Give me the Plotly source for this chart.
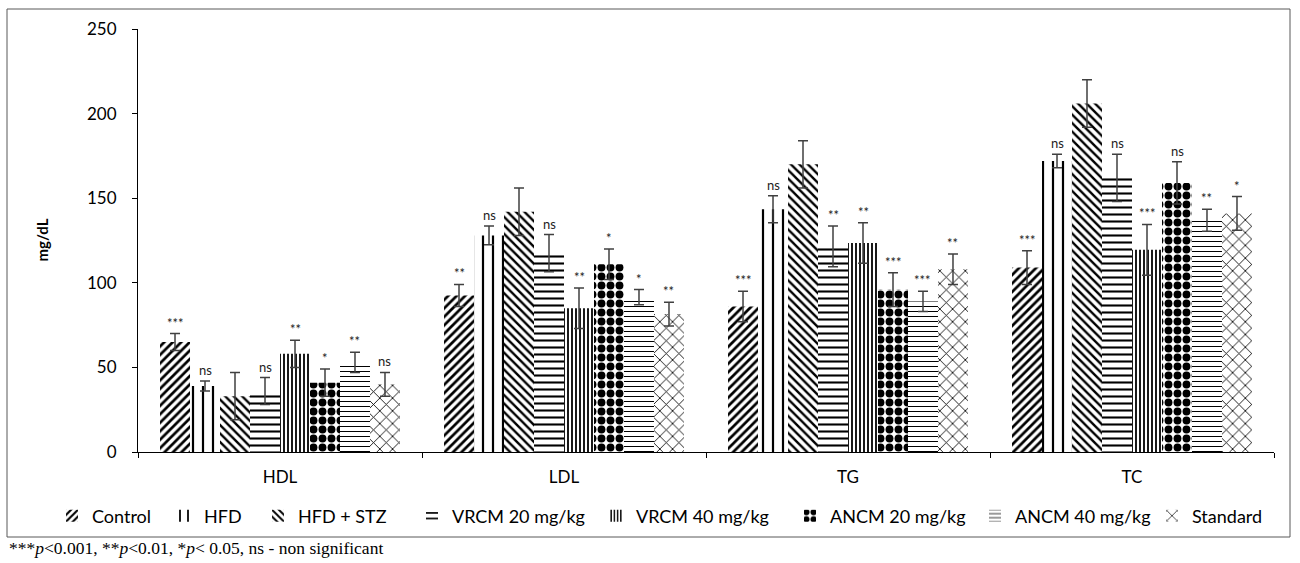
import plotly.graph_objects as go

categories = ["HDL", "LDL", "TG", "TC"]
groups = ["Control", "HFD", "HFD + STZ", "VRCM 20 mg/kg", "VRCM 40 mg/kg",
          "ANCM 20 mg/kg", "ANCM 40 mg/kg", "Standard"]

# values per group: [HDL, LDL, TG, TC]
control_vals = [65, 92.5, 86, 109]
hfd_vals = [39, 128, 143.5, 172]
hfdstz_vals = [33, 142, 170, 206]
vrcm20_vals = [36, 117.5, 121.5, 162]
vrcm40_vals = [58, 85, 123.5, 119.5]
ancm20_vals = [41, 111, 96, 159]
ancm40_vals = [53, 91.5, 89, 137]
standard_vals = [40, 81.5, 108, 141]

control_err = [5, 6.5, 9, 10]
hfd_err = [3, 5.5, 8, 4]
hfdstz_err = [14, 14, 14, 14]
vrcm20_err = [8, 11, 12, 14]
vrcm40_err = [8, 12, 12, 15]
ancm20_err = [8, 9, 10, 12.5]
ancm40_err = [6, 4.5, 6, 6.5]
standard_err = [7, 7, 9, 10]

control_sig = ["***", "**", "***", "***"]
hfd_sig = ["ns", "ns", "ns", "ns"]
hfdstz_sig = ["", "", "", ""]
vrcm20_sig = ["ns", "ns", "**", "ns"]
vrcm40_sig = ["**", "**", "**", "***"]
ancm20_sig = ["*", "*", "***", "ns"]
ancm40_sig = ["**", "*", "***", "**"]
standard_sig = ["ns", "**", "**", "*"]

y_ticks = [0, 50, 100, 150, 200, 250]

all_vals = [control_vals, hfd_vals, hfdstz_vals, vrcm20_vals, vrcm40_vals,
            ancm20_vals, ancm40_vals, standard_vals]
all_err = [control_err, hfd_err, hfdstz_err, vrcm20_err, vrcm40_err,
           ancm20_err, ancm40_err, standard_err]
all_sig = [control_sig, hfd_sig, hfdstz_sig, vrcm20_sig, vrcm40_sig,
           ancm20_sig, ancm40_sig, standard_sig]

patterns = [
    dict(shape="/", size=6, solidity=0.45),
    dict(shape="|", size=10, solidity=0.22),
    dict(shape="\\", size=6, solidity=0.4),
    dict(shape="-", size=7, solidity=0.3),
    dict(shape="|", size=4, solidity=0.45),
    dict(shape=".", size=9, solidity=0.6),
    dict(shape="-", size=5, solidity=0.2),
    dict(shape="x", size=9, solidity=0.18),
]

# layout geometry (pixels)
W, H = 1300, 563
ML, MR, MT, MB = 138, 26, 29, 111
PW = W - ML - MR
PH = H - MT - MB


def px_x(px):
    return (px - ML) / PW


def px_y(py):
    return (H - MB - py) / PH


# left edge of each legend text (px), one legend per series
legend_text_px = [92, 204, 298, 452, 636, 830, 1015, 1192]

FONT = "Lato"
fig = go.Figure()
for i, (name, vals, err, sig, pat) in enumerate(zip(groups, all_vals, all_err, all_sig, patterns)):
    p = dict(pat)
    p.update(fgcolor="black", bgcolor="white", fillmode="replace")
    lname = "legend" if i == 0 else f"legend{i+1}"
    fig.add_trace(go.Bar(
        name=name, x=categories, y=vals, legend=lname,
        marker=dict(color="white", pattern=p, line=dict(width=0)),
        error_y=dict(type="data", array=err, visible=True,
                     color="#404040", thickness=1.5, width=5),
    ))
    fig.update_layout({lname: dict(
        orientation="h", x=px_x(legend_text_px[i] - 40), xanchor="left",
        y=px_y(516), yanchor="middle", bgcolor="rgba(0,0,0,0)",
        font=dict(family=FONT, size=18, color="black"), borderwidth=0,
    )})

fig.update_layout(
    barmode="group", bargap=0.155, bargroupgap=0,
    width=W, height=H,
    margin=dict(l=ML, r=MR, t=MT, b=MB, autoexpand=False),
    plot_bgcolor="white", paper_bgcolor="white",
    font=dict(family=FONT, size=17, color="black"),
    showlegend=True,
)
fig.update_yaxes(range=[0, 250], tickvals=y_ticks, showgrid=False,
                 showline=True, linecolor="black", linewidth=1,
                 ticks="outside", ticklen=5, tickcolor="black",
                 ticklabelstandoff=12, zeroline=False,
                 tickfont=dict(family=FONT, size=17, color="black"))
fig.update_xaxes(showgrid=False, showline=True, linecolor="black", linewidth=1,
                 ticks="outside", ticklen=5, tickcolor="black",
                 tickson="boundaries", ticklabelstandoff=10,
                 tickfont=dict(family=FONT, size=17, color="black"))

# significance labels above error bars
n = len(groups)
cat_w = 1 - 0.155
bar_w = cat_w / n
for gi, (vals, err, sig) in enumerate(zip(all_vals, all_err, all_sig)):
    for ci, cat in enumerate(categories):
        if not sig[ci]:
            continue
        offset = -cat_w / 2 + bar_w * (gi + 0.5)
        fig.add_annotation(
            x=ci + offset, y=vals[ci] + err[ci], xref="x", yref="y",
            text=sig[ci], showarrow=False, yanchor="bottom", yshift=1,
            font=dict(family=FONT, size=13, color="#222222"),
        )

# y axis title
fig.add_annotation(x=px_x(30), y=0.5, xref="paper", yref="paper",
                   text="<b>mg/dL</b>", textangle=-90, showarrow=False,
                   font=dict(family=FONT, size=15, color="black"))

# footnote
fig.add_annotation(x=px_x(7), y=px_y(548), xref="paper", yref="paper",
                   xanchor="left", yanchor="middle", showarrow=False,
                   text="***<i>p</i>&lt;0.001, **<i>p</i>&lt;0.01, *<i>p</i>&lt; 0.05, ns - non significant",
                   font=dict(family="Liberation Serif", size=17.5, color="black"))

# outer chart frame
fig.add_shape(type="rect", xref="paper", yref="paper",
              x0=px_x(7), x1=px_x(1290), y0=px_y(537), y1=px_y(9),
              line=dict(color="#595959", width=1), fillcolor="rgba(0,0,0,0)",
              layer="below")

fig.write_html("out.html", config={"displayModeBar": False},
               post_script="document.body.style.margin='0';")
